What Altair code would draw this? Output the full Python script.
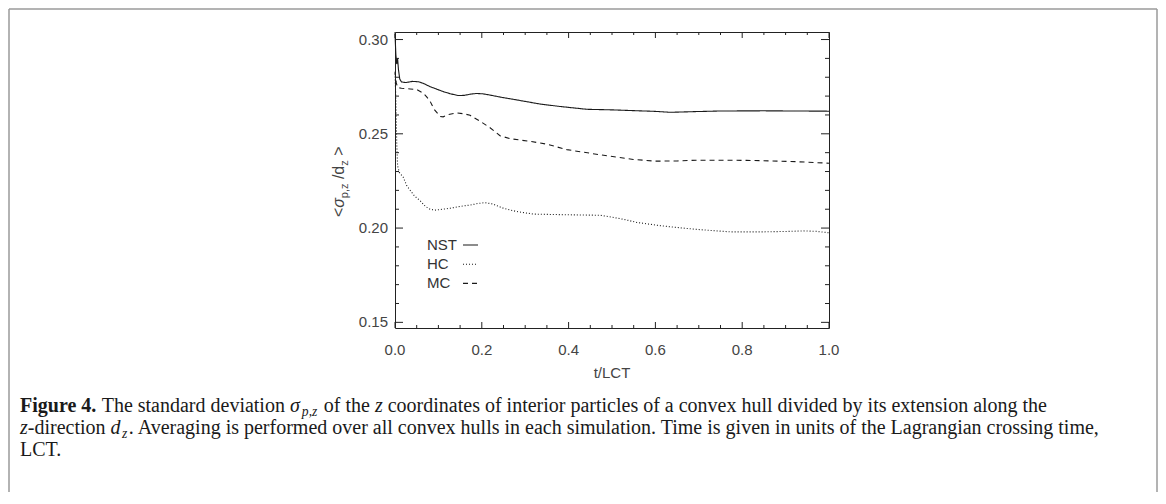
import altair as alt
import pandas as pd

# ---------------- data ----------------
t_nst = [0.0, 0.002, 0.004, 0.006, 0.008, 0.011, 0.015, 0.025, 0.04, 0.054,
         0.065, 0.081, 0.096, 0.111, 0.128, 0.146, 0.16, 0.173, 0.188, 0.203,
         0.22, 0.242, 0.265, 0.28, 0.334, 0.38, 0.442, 0.5, 0.549, 0.6,
         0.634, 0.695, 0.75, 0.849, 0.92, 1.0]
v_nst = [0.303, 0.292, 0.287, 0.290, 0.284, 0.279, 0.2775, 0.2772, 0.2778, 0.2776,
         0.2768, 0.2750, 0.2737, 0.2724, 0.2712, 0.2703, 0.2704, 0.2710, 0.2714, 0.2712,
         0.2705, 0.2695, 0.2686, 0.2680, 0.2658, 0.2645, 0.2630, 0.2627, 0.2623, 0.2619,
         0.2614, 0.2618, 0.2621, 0.2622, 0.2621, 0.2620]

t_hc = [0.0, 0.002, 0.004, 0.006, 0.01, 0.019, 0.027, 0.035, 0.045, 0.058,
        0.07, 0.081, 0.092, 0.11, 0.127, 0.15, 0.173, 0.19, 0.207, 0.225,
        0.25, 0.28, 0.319, 0.388, 0.44, 0.472, 0.495, 0.53, 0.557, 0.61,
        0.65, 0.695, 0.772, 0.849, 0.9, 0.941, 0.97, 1.0]
v_hc = [0.282, 0.268, 0.245, 0.233, 0.2295, 0.2270, 0.2225, 0.2200, 0.2170, 0.2145,
        0.2115, 0.2100, 0.2095, 0.2100, 0.2105, 0.2115, 0.2122, 0.2130, 0.2135, 0.2128,
        0.2105, 0.2088, 0.2074, 0.2071, 0.2069, 0.2068, 0.2060, 0.2045, 0.2030, 0.2013,
        0.2003, 0.1993, 0.1980, 0.1980, 0.1982, 0.1985, 0.1983, 0.1975]

t_mc = [0.0, 0.003, 0.006, 0.015, 0.035, 0.05, 0.065, 0.073, 0.081, 0.09,
        0.104, 0.111, 0.123, 0.142, 0.16, 0.173, 0.196, 0.219, 0.242, 0.265,
        0.311, 0.35, 0.396, 0.472, 0.549, 0.6, 0.65, 0.695, 0.75, 0.81,
        0.87, 0.926, 1.0]
v_mc = [0.283, 0.277, 0.2745, 0.2742, 0.2738, 0.2735, 0.2716, 0.2696, 0.2672, 0.2630,
        0.2592, 0.2590, 0.2602, 0.2611, 0.2606, 0.2598, 0.2567, 0.2532, 0.2490, 0.2474,
        0.2460, 0.2445, 0.2416, 0.2389, 0.2364, 0.2355, 0.2356, 0.2360, 0.2360, 0.2359,
        0.2356, 0.2352, 0.2344]

series_names = ["NST", "HC", "MC"]
series_t = [t_nst, t_hc, t_mc]
series_v = [v_nst, v_hc, v_mc]

y_major = [0.15, 0.20, 0.25, 0.30]
y_labels = ["0.15", "0.20", "0.25", "0.30"]
y_minor = [0.16, 0.17, 0.18, 0.19, 0.21, 0.22, 0.23, 0.24, 0.26, 0.27, 0.28, 0.29]
x_major = [0.0, 0.2, 0.4, 0.6, 0.8, 1.0]
x_labels = ["0.0", "0.2", "0.4", "0.6", "0.8", "1.0"]
x_minor = [0.05, 0.1, 0.15, 0.25, 0.3, 0.35, 0.45, 0.5, 0.55, 0.65, 0.7, 0.75,
           0.85, 0.9, 0.95]

x_title = "t/LCT"
# (text, style, subscript?)
y_title_parts = [("<", "n", ""), ("σ", "i", ""), ("p,z", "n", "sub"), (" /d", "n", ""),
                 ("z", "n", "sub"), (" >", "n", "")]

caption_lines = [
    [("Figure 4.", "b", ""), (" The standard deviation ", "r", ""), ("σ", "i", ""),
     ("p,z", "i", "sub"), (" of the ", "r", ""), ("z", "i", ""),
     (" coordinates of interior particles of a convex hull divided by its extension along the", "r", "")],
    [("z", "i", ""), ("-direction ", "r", ""), ("d", "i", ""), ("z", "i", "sub"),
     (". Averaging is performed over all convex hulls in each simulation. Time is given in units of the Lagrangian crossing time,", "r", "")],
    [("LCT.", "r", "")],
]

# ---------------- layout ----------------
W, H = 434, 296
PAD_L, PAD_T = 387, 24
CANVAS_W, CANVAS_H = 1150, 484
PAD_R = CANVAS_W - PAD_L - W
PAD_B = CANVAS_H - PAD_T - H
OX, OY = 8 + PAD_L, 8 + PAD_T   # page position of plot origin

def px(page_x):
    return page_x - OX

def py(page_y):
    return page_y - OY

xs = alt.Scale(domain=[0, 1], nice=False, zero=False)
ys = alt.Scale(domain=[0.147, 0.304], nice=False, zero=False)

LABEL_FONT = "Liberation Sans"
SERIF = "Liberation Serif"
LABEL_COLOR = "#444"

# ---------------- curves ----------------
rows = []
for name, ts, vs in zip(series_names, series_t, series_v):
    for t, v in zip(ts, vs):
        rows.append({"series": name, "t": t, "v": v})
df = pd.DataFrame(rows)

dash_scale = alt.Scale(domain=series_names, range=[[1, 0], [1, 2], [5, 4]])

lines = alt.Chart(df).mark_line(color="#1a1a1a", strokeWidth=1.1).encode(
    x=alt.X("t:Q", scale=xs, axis=None),
    y=alt.Y("v:Q", scale=ys, axis=None),
    strokeDash=alt.StrokeDash("series:N", scale=dash_scale, legend=None),
    detail="series:N",
)

# ---------------- tick labels (through the same scales) ----------------
ylab = alt.Chart(pd.DataFrame({"v": y_major, "lab": y_labels})).mark_text(
    align="right", baseline="middle", font=LABEL_FONT, fontSize=15, color=LABEL_COLOR).encode(
    y=alt.Y("v:Q", scale=ys, axis=None), x=alt.value(-7), text="lab:N")
xlab = alt.Chart(pd.DataFrame({"t": x_major, "lab": x_labels})).mark_text(
    align="center", baseline="middle", font=LABEL_FONT, fontSize=15, color=LABEL_COLOR).encode(
    x=alt.X("t:Q", scale=xs, axis=None), y=alt.value(py(350)), text="lab:N")

# ---------------- inward ticks on all four sides ----------------
def y_ticks(vals, length):
    d = pd.DataFrame({"v": vals})
    base = alt.Chart(d).mark_rule(color="#222", strokeWidth=1)
    left = base.encode(y=alt.Y("v:Q", scale=ys, axis=None), x=alt.value(0), x2=alt.value(length))
    right = base.encode(y=alt.Y("v:Q", scale=ys, axis=None), x=alt.value(W - length), x2=alt.value(W))
    return [left, right]

def x_ticks(vals, length):
    d = pd.DataFrame({"t": vals})
    base = alt.Chart(d).mark_rule(color="#222", strokeWidth=1)
    bottom = base.encode(x=alt.X("t:Q", scale=xs, axis=None), y=alt.value(H - length), y2=alt.value(H))
    top = base.encode(x=alt.X("t:Q", scale=xs, axis=None), y=alt.value(0), y2=alt.value(length))
    return [bottom, top]

tick_layers = y_ticks(y_major, 8) + y_ticks(y_minor, 4) + x_ticks(x_major, 6) + x_ticks(x_minor, 3)

# ---------------- legend ----------------
leg_df = pd.DataFrame({
    "series": series_names,
    "ly": [py(245) + 19.2 * i for i in range(len(series_names))],
})
leg_text = alt.Chart(leg_df).mark_text(align="left", baseline="middle", font=LABEL_FONT,
                                        fontSize=15, color="#333").encode(
    x=alt.value(px(427)), y=alt.Y("ly:Q", scale=None, axis=None), text="series:N")
leg_line = alt.Chart(leg_df).mark_rule(color="#1a1a1a", strokeWidth=1.1).encode(
    x=alt.value(px(463)), x2=alt.value(px(478)),
    y=alt.Y("ly:Q", scale=None, axis=None),
    strokeDash=alt.StrokeDash("series:N", scale=dash_scale, legend=None))

# ---------------- axis titles ----------------
xt_df = pd.DataFrame({"text": [x_title], "xx": [W / 2], "yy": [py(373)]})
x_title_layer = alt.Chart(xt_df).mark_text(align="center", baseline="middle", font=LABEL_FONT,
                                           fontSize=15, color=LABEL_COLOR).encode(
    x=alt.X("xx:Q", scale=None, axis=None), y=alt.Y("yy:Q", scale=None, axis=None), text="text:N")

SANS_W = {"<": 584, ">": 584, "/": 278, "d": 556, "p": 556, ",": 278, "z": 500, " ": 278, "σ": 590}

def sans_w(s, fs):
    return sum(SANS_W.get(c, 556) for c in s) * fs / 1000.0

YT_FS, YT_SUB = 16, 11
yt_base_x = px(344)
cursor = py(217)
yt_rows = {"n": [], "i": []}
for txt, style, sub in y_title_parts:
    fs = YT_SUB if sub else YT_FS
    lead = len(txt) - len(txt.lstrip())
    start = cursor - lead * sans_w(" ", fs)
    yt_rows[style].append({"text": txt.strip(), "xx": yt_base_x + (4 if sub else 0),
                           "yy": start, "fs": fs})
    cursor -= sans_w(txt, fs)

yt_layers = []
for style, rws in yt_rows.items():
    if not rws:
        continue
    yt_layers.append(
        alt.Chart(pd.DataFrame(rws)).mark_text(
            align="left", baseline="alphabetic", angle=270, font=LABEL_FONT, color=LABEL_COLOR,
            fontStyle="italic" if style == "i" else "normal").encode(
            x=alt.X("xx:Q", scale=None, axis=None), y=alt.Y("yy:Q", scale=None, axis=None),
            size=alt.Size("fs:Q", scale=None, legend=None), text="text:N"))

# ---------------- caption ----------------
TR = {" ": 250, ",": 250, "-": 333, ".": 250, "/": 278,
      "A": 722, "C": 667, "F": 556, "L": 611, "T": 611,
      "a": 444, "b": 500, "c": 444, "d": 500, "e": 444, "f": 333, "g": 500, "h": 500,
      "i": 278, "j": 278, "k": 500, "l": 278, "m": 778, "n": 500, "o": 500, "p": 500,
      "q": 500, "r": 333, "s": 389, "t": 278, "u": 500, "v": 500, "w": 722, "x": 500,
      "y": 500, "z": 444}
TB = {"F": 611, "i": 278, "g": 500, "u": 556, "r": 444, "e": 444, " ": 250, "4": 500, ".": 250}
TI = {"z": 389, "d": 500, "p": 500, ",": 250, "σ": 520, " ": 250}
TABLES = {"r": TR, "b": TB, "i": TI}

def serif_units(s, style):
    tab = TABLES[style]
    return sum(tab.get(c, 500) for c in s)

# font size chosen so that the second caption line spans the same width as in the reference
units2 = sum(serif_units(t, st) * (0.7 if sb else 1.0) for t, st, sb in caption_lines[1])
CAP_FS = max(15.0, min(20.0, (1101 - 20) * 1000.0 / units2))
CAP_X0 = px(20)
CAP_BASE = [py(412), py(434), py(456)]

cap_rows = {"r": [], "b": [], "i": []}
for li, line in enumerate(caption_lines):
    cursor = CAP_X0
    for txt, style, sub in line:
        fs = CAP_FS * (0.68 if sub else 1.0)
        if sub:
            cursor += 1.5   # italic correction before a subscript
        lead = len(txt) - len(txt.lstrip())
        start = cursor + lead * TR[" "] * fs / 1000.0
        cap_rows[style].append({"text": txt.strip(), "xx": start,
                                "yy": CAP_BASE[li] + (0.2 * CAP_FS if sub else 0), "fs": fs})
        cursor += serif_units(txt, style) * fs / 1000.0 + (1.5 if sub else 0)

cap_layers = []
for style, rws in cap_rows.items():
    if not rws:
        continue
    cap_layers.append(
        alt.Chart(pd.DataFrame(rws)).mark_text(
            align="left", baseline="alphabetic", font=SERIF, color="#1a1a1a",
            fontStyle="italic" if style == "i" else "normal",
            fontWeight="bold" if style == "b" else "normal").encode(
            x=alt.X("xx:Q", scale=None, axis=None), y=alt.Y("yy:Q", scale=None, axis=None),
            size=alt.Size("fs:Q", scale=None, legend=None), text="text:N"))

# ---------------- figure frame ----------------
frame_df = pd.DataFrame({"k": [0]})
fl, fr, ft, fb = px(9), px(1157), py(9), py(CANVAS_H + 8)
frame_base = alt.Chart(frame_df).mark_rule(color="#9a9a9a", strokeWidth=1.5)
frame = [
    frame_base.encode(x=alt.value(fl), y=alt.value(ft), y2=alt.value(fb)),
    frame_base.encode(x=alt.value(fr), y=alt.value(ft), y2=alt.value(fb)),
    frame_base.encode(x=alt.value(fl), x2=alt.value(fr), y=alt.value(ft)),
]

chart = alt.layer(
    lines, *tick_layers, ylab, xlab, leg_text, leg_line, x_title_layer,
    *yt_layers, *cap_layers, *frame
).properties(
    width=W, height=H,
    padding={"left": PAD_L, "top": PAD_T, "right": PAD_R, "bottom": PAD_B},
    autosize=alt.AutoSizeParams(type="none"),
    background="white",
).configure_view(stroke="#222", strokeWidth=1)

chart.save("out.html", embed_options={"renderer": "svg", "actions": False})
